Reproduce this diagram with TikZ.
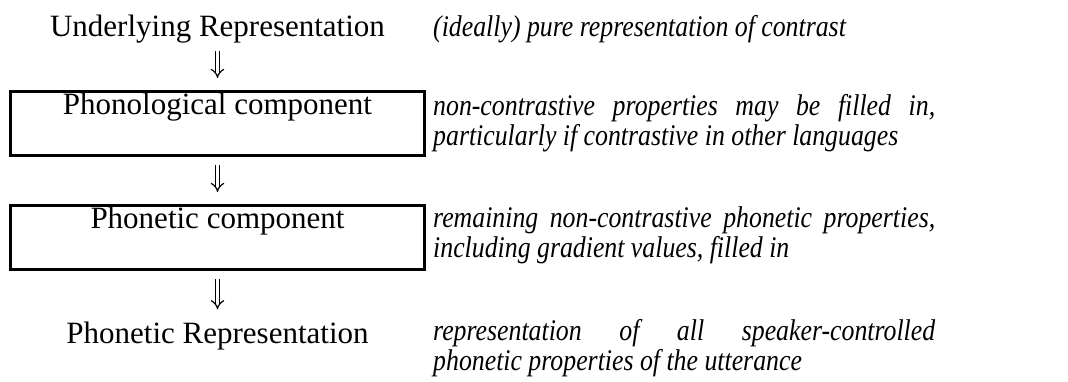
\documentclass[tikz,border=0pt]{standalone}
\usepackage{fontspec}
\setmainfont{Liberation Serif}
\newfontfamily\notefont[FakeStretch=0.86]{Liberation Serif}
\usetikzlibrary{arrows.meta}

\tikzset{
  level/.style={font=\fontsize{31}{36}\selectfont, inner sep=0pt, anchor=base},
  stagebox/.style={level, draw, line width=3pt, minimum width=414pt,
    text height=22.5pt, text depth=41.5pt},
  note/.style={font=\notefont\itshape\fontsize{30}{30}\selectfont, text width=502pt,
    align=justify, inner sep=0pt, anchor=base west},
  derive/.style={double, double distance=3.5pt, line width=1.2pt, -{Implies[scale=1.9]},
    shorten <=8pt, shorten >=12pt}
}

\begin{document}
\begin{tikzpicture}[x=1pt,y=1pt]
\useasboundingbox (0,0) rectangle (1068,-381);

% left column: levels of representation
\node[level] (ur) at (217.5,-36) {Underlying Representation};
\node[stagebox] (phonol) at (217.5,-114) {Phonological component};
\node[stagebox] (phonet) at (217.5,-228) {Phonetic component};
\node[level] (pr) at (217.5,-343) {Phonetic Representation};

\draw[derive] (ur) -- (phonol);
\draw[derive] (phonol) -- (phonet);
\draw[derive] (phonet) -- (pr);

% right column: what each level contains
\node[note] (urnote) at (433,-36) {(ideally) pure representation of contrast};
\node[note] (phonolnote) at (433,-115) {non-contrastive properties may be filled in,\linebreak
  particularly if contrastive in other languages};
\node[note] (phonetnote) at (433,-227) {remaining non-contrastive phonetic properties,\linebreak
  including gradient values, filled in};
\node[note] (prnote) at (433,-340) {representation of all speaker-controlled\linebreak
  phonetic properties of the utterance};

\end{tikzpicture}
\end{document}
